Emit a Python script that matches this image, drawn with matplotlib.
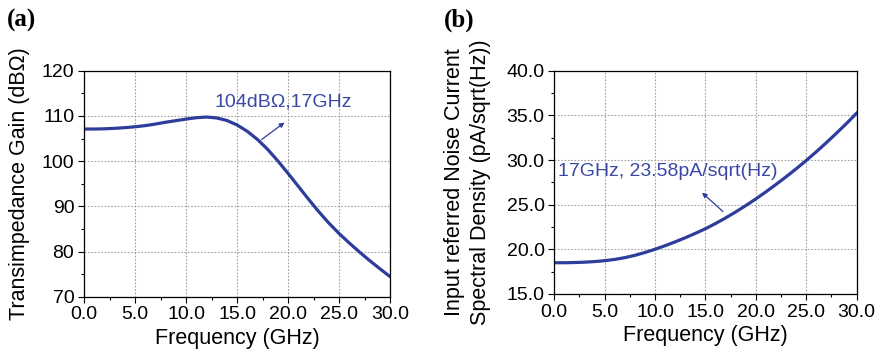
import numpy as np
import matplotlib
matplotlib.use("Agg")
import matplotlib.pyplot as plt
from matplotlib.ticker import MultipleLocator, FormatStrFormatter

plt.rcParams['font.family'] = ['Liberation Sans', 'DejaVu Sans']

# panel (a): transimpedance gain
freq_a = list(range(0, 31))
gain = [107.1, 107.1, 107.15, 107.25, 107.4, 107.6, 107.85, 108.2, 108.6, 108.95,
        109.3, 109.6, 109.75, 109.55, 109.0, 108.0, 106.6, 104.8, 102.6, 100.05,
        97.3, 94.45, 91.6, 88.85, 86.3, 84.0, 81.9, 79.9, 78.0, 76.2, 74.45]

# panel (b): input referred noise current
freq_b = list(range(0, 31))
noise = [18.5, 18.5, 18.52, 18.56, 18.63, 18.73, 18.87, 19.07, 19.33, 19.65,
         20.01, 20.41, 20.84, 21.3, 21.79, 22.31, 22.89, 23.52, 24.19, 24.9,
         25.65, 26.44, 27.27, 28.13, 29.02, 29.95, 30.93, 31.95, 33.01, 34.1, 35.25]

line_c = '#2e3c9c'
text_c = '#3a49a6'

fig = plt.figure(figsize=(8.79, 3.63), dpi=100)
ax1 = fig.add_axes([0.0956, 0.1826, 0.3481, 0.6226])
ax2 = fig.add_axes([0.6306, 0.1901, 0.3440, 0.6151])


def style(ax, ymaj, ymin, yfmt):
    ax.set_xlim(0, 30)
    ax.xaxis.set_major_locator(MultipleLocator(5))
    ax.xaxis.set_minor_locator(MultipleLocator(2.5))
    ax.xaxis.set_major_formatter(FormatStrFormatter('%.1f'))
    ax.yaxis.set_major_locator(MultipleLocator(ymaj))
    ax.yaxis.set_minor_locator(MultipleLocator(ymin))
    ax.yaxis.set_major_formatter(FormatStrFormatter(yfmt))
    ax.tick_params(which='major', direction='out', length=4, width=0.8, labelsize=14,
                   top=False, right=False, pad=3)
    ax.tick_params(which='minor', direction='out', length=2.5, width=0.8, top=False, right=False)
    ax.grid(True, which='major', color='#a0a0a0', linestyle=(0, (1.5, 1.5)), linewidth=0.8)
    for s in ax.spines.values():
        s.set_linewidth(0.9)
    ax.set_xlabel('Frequency (GHz)', fontsize=15.5, labelpad=3)


ax1.plot(freq_a, gain, color=line_c, lw=2.3)
ax1.set_ylim(70, 120)
style(ax1, 10, 5, '%d')
ax1.set_ylabel('Transimpedance Gain (dBΩ)', fontsize=15.5, labelpad=8.5)
ax1.annotate('', xy=(19.87, 108.9), xytext=(17.19, 104.4),
             arrowprops=dict(arrowstyle='-|>', color=line_c, lw=0.9, mutation_scale=7))
ax1.text(12.84, 113.1, '104dBΩ,17GHz', color=text_c, fontsize=14, va='center', ha='left')

ax2.plot(freq_b, noise, color=line_c, lw=2.3)
ax2.set_ylim(15, 40)
style(ax2, 5, 2.5, '%.1f')
ax2.set_ylabel('Input referred Noise Current\nSpectral Density (pA/sqrt(Hz))', fontsize=15.5,
               labelpad=11, linespacing=1.3)
ax2.annotate('', xy=(14.45, 26.56), xytext=(16.93, 24.03),
             arrowprops=dict(arrowstyle='-|>', color=line_c, lw=0.9, mutation_scale=7))
ax2.text(0.4, 28.7, '17GHz, 23.58pA/sqrt(Hz)', color=text_c, fontsize=14, va='center', ha='left')

fig.text(0.008, 0.945, '(a)', fontsize=18, fontweight='bold', family='Liberation Serif', va='center')
fig.text(0.505, 0.945, '(b)', fontsize=18, fontweight='bold', family='Liberation Serif', va='center')

fig.savefig('out.png', dpi=100)
